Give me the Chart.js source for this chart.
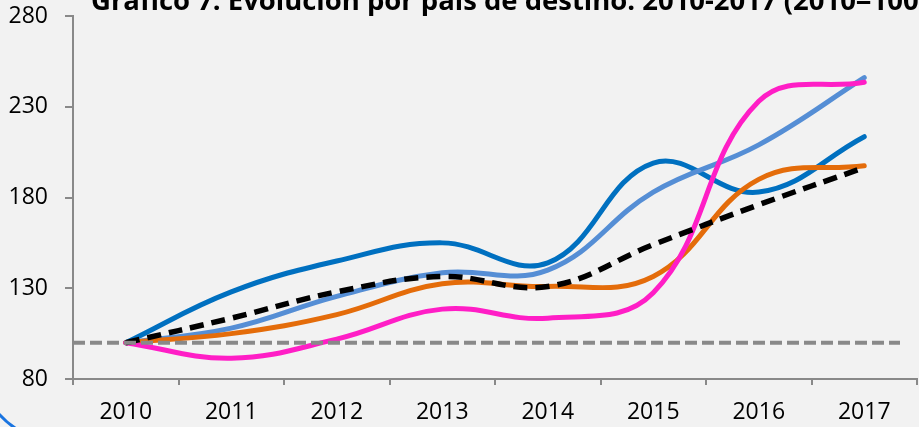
<!DOCTYPE html>
<html>
<head>
<meta charset="utf-8">
<script src="https://cdn.jsdelivr.net/npm/chart.js@4/dist/chart.umd.min.js"></script>
<style>
html,body{margin:0;padding:0;background:#f2f2f2;overflow:hidden;}
#wrap{width:919px;height:427px;position:relative;}
</style>
</head>
<body>
<div id="wrap"><canvas id="c" width="919" height="427"></canvas></div>
<script>
const titleText = "Gráfico 7. Evolución por país de destino. 2010-2017 (2010=100)";
const years = ["2010","2011","2012","2013","2014","2015","2016","2017"];
const yTicks = [80, 130, 180, 230, 280];
const baseLevel = 100;

const serieTotal    = [100, 113.5, 128, 136.5, 131, 154, 176, 196.5];
const serieMagenta  = [100, 91.5, 102, 118.5, 113.5, 127.5, 233, 243.5];
const serieNaranja  = [100, 105, 115.5, 132.5, 131, 136.5, 190, 197.5];
const serieAzulClaro= [100, 108, 125.5, 138.5, 140, 183, 209, 246];
const serieAzul     = [100, 128, 145, 155, 144, 199, 183, 213.5];

const bgPlugin = {
  id: 'bg',
  beforeDraw(chart) {
    const ctx = chart.ctx;
    ctx.save();
    ctx.fillStyle = '#f2f2f2';
    ctx.fillRect(0, 0, chart.width, chart.height);
    ctx.restore();
  },
  afterDraw(chart) {
    const ctx = chart.ctx;
    ctx.save();
    ctx.font = 'bold 20px "Open Sans"';
    const visible = titleText.slice(0, titleText.length - 1);
    const w = ctx.measureText(visible).width;
    const size = 20 * 828 / w;
    ctx.font = 'bold ' + size.toFixed(2) + 'px "Open Sans"';
    ctx.fillStyle = '#000';
    ctx.textBaseline = 'alphabetic';
    ctx.textAlign = 'left';
    ctx.fillText(titleText, 91, 10);
    ctx.strokeStyle = '#1a74e0';
    ctx.lineWidth = 3;
    ctx.beginPath();
    ctx.arc(60, 360, 81.5, 2.15, 2.42);
    ctx.stroke();
    ctx.restore();
  },
  afterDatasetsDraw(chart) {
    const ctx = chart.ctx;
    const y = chart.scales.y.getPixelForValue(baseLevel);
    const a = chart.chartArea;
    ctx.save();
    ctx.strokeStyle = '#898989';
    ctx.lineWidth = 4;
    ctx.setLineDash([12, 5]);
    ctx.beginPath();
    ctx.moveTo(a.left, y);
    ctx.lineTo(a.right - 17, y);
    ctx.stroke();
    ctx.restore();
  }
};

const common = { pointRadius: 0, pointHoverRadius: 0, fill: false, tension: 0.4, borderWidth: 5, borderCapStyle: 'round', borderJoinStyle: 'round' };

new Chart(document.getElementById('c'), {
  type: 'line',
  data: {
    labels: years,
    datasets: [
      Object.assign({}, common, { label: 'Total', data: serieTotal, borderColor: '#000000', borderDash: [14, 8], borderWidth: 5.5, borderCapStyle: 'butt' }),
      Object.assign({}, common, { label: 'Serie 4', data: serieMagenta, borderColor: '#ff1ec6' }),
      Object.assign({}, common, { label: 'Serie 3', data: serieNaranja, borderColor: '#e46c0a' }),
      Object.assign({}, common, { label: 'Serie 2', data: serieAzulClaro, borderColor: '#558ed5' }),
      Object.assign({}, common, { label: 'Serie 1', data: serieAzul, borderColor: '#0070c0' })
    ]
  },
  options: {
    responsive: false,
    animation: false,
    devicePixelRatio: 1,
    layout: { padding: { top: 16, right: 2, left: 0, bottom: 0 } },
    plugins: { legend: { display: false }, title: { display: false }, tooltip: { enabled: false } },
    scales: {
      x: {
        offset: true,
        grid: { display: true, drawOnChartArea: false, drawTicks: true, tickLength: 6, offset: true, color: '#898989', lineWidth: 2 },
        border: { display: true, color: '#898989', width: 2 },
        ticks: { color: '#000', font: { family: '"Open Sans"', size: 23 }, padding: 14, maxRotation: 0 },
        afterFit(s) { s.height = 48; s.paddingLeft = 0; s.paddingRight = 0; }
      },
      y: {
        min: 80, max: 280,
        afterBuildTicks(s) { s.ticks = yTicks.map(v => ({ value: v })); },
        grid: { display: true, drawOnChartArea: false, drawTicks: true, tickLength: 8, color: '#898989', lineWidth: 2 },
        border: { display: true, color: '#898989', width: 2 },
        ticks: { color: '#000', font: { family: '"Open Sans"', size: 23 }, padding: 17 },
        afterFit(s) { s.width = 73; s.paddingTop = 0; s.paddingBottom = 0; }
      }
    }
  },
  plugins: [bgPlugin]
});
</script>
</body>
</html>
